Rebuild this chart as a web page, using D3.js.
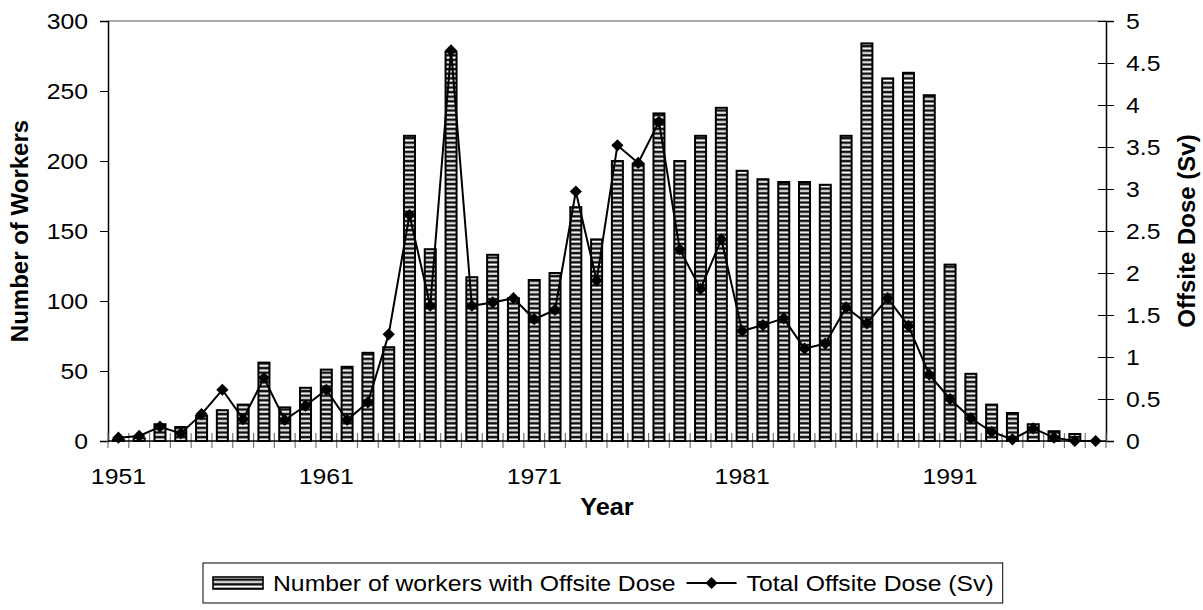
<!DOCTYPE html>
<html>
<head>
<meta charset="utf-8">
<script src="https://cdn.jsdelivr.net/npm/d3@7"></script>
<style>
  body { margin: 0; background: #fff; }
  text { font-family: Arial, "Liberation Sans", sans-serif; fill: #000; }
</style>
</head>
<body>
<div id="chart"></div>
<script>
const ancho = 1203
const alto = 610
const margen = { superior: 21, inferior: 169, izquierdo: 108, derecho: 97 }

// datos
const years = [1951,1952,1953,1954,1955,1956,1957,1958,1959,1960,1961,1962,1963,1964,1965,1966,
  1967,1968,1969,1970,1971,1972,1973,1974,1975,1976,1977,1978,1979,1980,1981,1982,1983,1984,
  1985,1986,1987,1988,1989,1990,1991,1992,1993,1994,1995,1996,1997,1998]
const workers = [1,2,12,10,18,22,26,56,24,38,51,53,63,67,218,137,278,117,133,102,115,120,167,144,
  200,198,234,200,218,238,193,187,185,185,183,218,284,259,263,247,126,48,26,20,12,7,5,0]
const doses = [0.04,0.06,0.17,0.09,0.32,0.61,0.26,0.75,0.25,0.42,0.61,0.25,0.46,1.27,2.69,1.61,
  4.65,1.61,1.65,1.70,1.45,1.56,2.97,1.91,3.52,3.31,3.80,2.28,1.81,2.40,1.31,1.38,1.46,1.10,
  1.16,1.59,1.40,1.70,1.37,0.79,0.50,0.27,0.11,0.02,0.15,0.04,0.0,0.0]
const yearLabels = [1951, 1961, 1971, 1981, 1991]
const leftTicks = [0, 50, 100, 150, 200, 250, 300]
const rightTicks = [0, 0.5, 1, 1.5, 2, 2.5, 3, 3.5, 4, 4.5, 5]

const data = years.map((y, i) => ({ year: y, workers: workers[i], dose: doses[i] }))

const x0 = margen.izquierdo
const x1 = ancho - margen.derecho
const y0 = alto - margen.inferior
const y1 = margen.superior
const fuente = 22.5

const svg = d3.select("#chart").append("svg")
  .attr("width", ancho).attr("height", alto)

// el original esta un poco estirado en horizontal
function estirar(sel) {
  sel.each(function() {
    const w = this.getComputedTextLength()
    d3.select(this).attr("textLength", w * 1.1).attr("lengthAdjust", "spacingAndGlyphs")
  })
}

// patron de barras (rayas horizontales)
const defs = svg.append("defs")
const pat = defs.append("pattern").attr("id", "rayas")
  .attr("patternUnits", "userSpaceOnUse").attr("width", 20).attr("height", 4.6)
pat.append("rect").attr("width", 20).attr("height", 4.6).attr("fill", "#111")
pat.append("rect").attr("y", 1.4).attr("width", 20).attr("height", 2).attr("fill", "#fff")

const x = d3.scaleBand().domain(years).range([x0, x1]).paddingInner(0.47).paddingOuter(0.235)
const y = d3.scaleLinear().domain([0, 300]).range([y0, y1])
const y2 = d3.scaleLinear().domain([0, 5]).range([y0, y1])
const paso = x.step()

// borde superior gris
svg.append("line").attr("x1", x0).attr("x2", x1).attr("y1", y1).attr("y2", y1)
  .attr("stroke", "#8c8c8c").attr("stroke-width", 1.5)

// barras
svg.append("g").selectAll("rect").data(data).join("rect")
  .filter(d => d.workers > 0)
  .attr("x", d => x(d.year))
  .attr("y", d => y(d.workers))
  .attr("width", x.bandwidth())
  .attr("height", d => y0 - y(d.workers))
  .attr("fill", "url(#rayas)")
  .attr("stroke", "#000").attr("stroke-width", 2)

// eje izquierdo
const ejeY = d3.axisLeft(y).tickValues(leftTicks).tickSize(8).tickPadding(12)
const gY = svg.append("g").attr("transform", `translate(${x0},0)`).call(ejeY)
gY.select(".domain").attr("stroke", "#000").attr("stroke-width", 1.5)
gY.selectAll(".tick line").attr("stroke", "#000")
gY.selectAll("text").attr("font-size", fuente).attr("dy", "0.35em").call(estirar)

// eje derecho (ticks que cruzan)
const ejeY2 = d3.axisRight(y2).tickValues(rightTicks).tickFormat(d => String(d))
  .tickSize(8).tickPadding(12)
const gY2 = svg.append("g").attr("transform", `translate(${x1},0)`).call(ejeY2)
gY2.select(".domain").attr("stroke", "#000").attr("stroke-width", 1.5)
gY2.selectAll(".tick line").attr("x1", -8).attr("stroke", "#000")
gY2.selectAll("text").attr("font-size", fuente).attr("dy", "0.35em").call(estirar)

// eje x: etiquetas cada 10 anos, marcas en cada limite de categoria
const ejeX = d3.axisBottom(x).tickValues(yearLabels).tickSize(0).tickPadding(27)
const gX = svg.append("g").attr("transform", `translate(0,${y0})`).call(ejeX)
gX.select(".domain").remove()
gX.selectAll("text").attr("font-size", fuente).call(estirar)
svg.append("g").selectAll("line").data(d3.range(years.length + 1)).join("line")
  .attr("x1", i => x0 + i * paso).attr("x2", i => x0 + i * paso)
  .attr("y1", y0 - 8).attr("y2", y0 + 7)
  .attr("stroke", "#777").attr("stroke-width", 1.2)
svg.append("line").attr("x1", x0).attr("x2", x1).attr("y1", y0).attr("y2", y0)
  .attr("stroke", "#000").attr("stroke-width", 1.5)

// linea de dosis
const cx = d => x(d.year) + x.bandwidth() / 2
svg.append("path").datum(data)
  .attr("d", d3.line().x(cx).y(d => y2(d.dose)))
  .attr("fill", "none").attr("stroke", "#000").attr("stroke-width", 2)
const diamante = d3.symbol().type(d3.symbolDiamond2).size(95)
svg.append("g").selectAll("path").data(data).join("path")
  .attr("d", diamante)
  .attr("transform", d => `translate(${cx(d)},${y2(d.dose)})`)
  .attr("fill", "#000")

// titulos de ejes
svg.append("text").text("Number of Workers")
  .attr("transform", `translate(28,${(y0 + y1) / 2}) rotate(-90)`)
  .attr("text-anchor", "middle").attr("font-size", 24).attr("font-weight", "bold")
svg.append("text").text("Offsite Dose (Sv)")
  .attr("transform", `translate(1195,${(y0 + y1) / 2}) rotate(-90)`)
  .attr("text-anchor", "middle").attr("font-size", 24).attr("font-weight", "bold")
svg.append("text").text("Year")
  .attr("x", (x0 + x1) / 2).attr("y", 515)
  .attr("text-anchor", "middle").attr("font-size", 23).attr("font-weight", "bold")
  .call(estirar)

// leyenda
const leyenda = svg.append("g")
const ly = 583
leyenda.append("rect").attr("x", 213).attr("y", ly - 6).attr("width", 50).attr("height", 12)
  .attr("fill", "url(#rayas)").attr("stroke", "#000").attr("stroke-width", 1.6)
const t1 = leyenda.append("text").text("Number of workers with Offsite Dose")
  .attr("x", 273).attr("y", ly).attr("dy", "0.35em").attr("font-size", fuente).call(estirar)
const fin1 = 273 + +t1.attr("textLength")
const lx = fin1 + 11
leyenda.append("line").attr("x1", lx).attr("x2", lx + 50).attr("y1", ly).attr("y2", ly)
  .attr("stroke", "#000").attr("stroke-width", 2)
leyenda.append("path").attr("d", diamante)
  .attr("transform", `translate(${lx + 25},${ly})`).attr("fill", "#000")
const t2 = leyenda.append("text").text("Total Offsite Dose (Sv)")
  .attr("x", lx + 60).attr("y", ly).attr("dy", "0.35em").attr("font-size", fuente).call(estirar)
const fin2 = lx + 60 + +t2.attr("textLength")
leyenda.insert("rect", ":first-child")
  .attr("x", 203).attr("y", ly - 20).attr("width", fin2 + 9 - 203).attr("height", 40)
  .attr("fill", "#fff").attr("stroke", "#000").attr("stroke-width", 1)
</script>
</body>
</html>
